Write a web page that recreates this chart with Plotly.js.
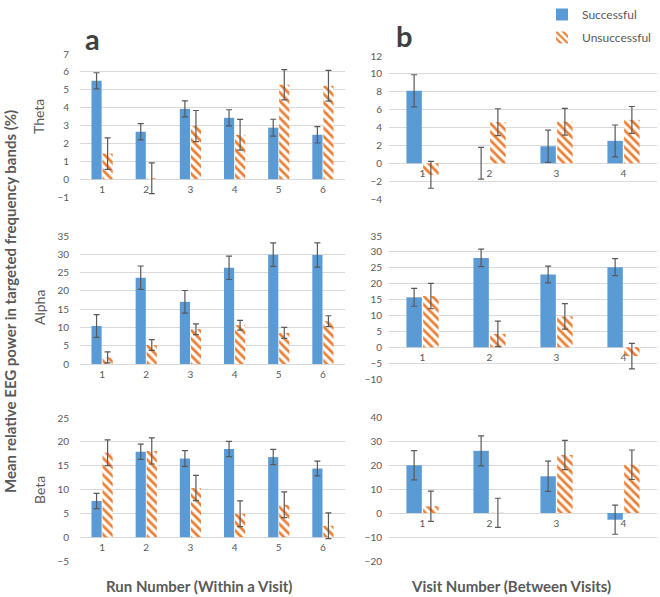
<!DOCTYPE html>
<html>
<head>
<meta charset="utf-8">
<script src="https://cdn.plot.ly/plotly-3.0.1.min.js"></script>
<style>html,body{margin:0;padding:0;background:#fff;}#chart{width:660px;height:597px;}</style>
</head>
<body>
<div id="chart"></div>
<script>
// ---- Data ----
const runs = ['1', '2', '3', '4', '5', '6'];
const visits = ['1', '2', '3', '4'];

const thetaRunSucc = [5.5, 2.65, 3.93, 3.43, 2.88, 2.48];
const thetaRunSuccErr = [0.45, 0.45, 0.45, 0.45, 0.47, 0.46];
const thetaRunUnsucc = [1.43, 0.05, 2.97, 2.48, 5.28, 5.22];
const thetaRunUnsuccErr = [0.88, 0.86, 0.87, 0.86, 0.85, 0.86];

const thetaVisitSucc = [8.1, 0.0, 1.9, 2.5];
const thetaVisitSuccErr = [1.8, 1.77, 1.8, 1.78];
const thetaVisitUnsucc = [-1.3, 4.6, 4.65, 4.85];
const thetaVisitUnsuccErr = [1.5, 1.5, 1.5, 1.5];

const alphaRunSucc = [10.4, 23.6, 17.0, 26.3, 29.9, 29.8];
const alphaRunSuccErr = [3.1, 3.2, 3.1, 3.2, 3.2, 3.3];
const alphaRunUnsucc = [1.8, 5.2, 9.5, 10.6, 8.5, 11.7];
const alphaRunUnsuccErr = [1.5, 1.45, 1.45, 1.35, 1.5, 1.5];

const alphaVisitSucc = [15.7, 28.1, 22.9, 25.2];
const alphaVisitSuccErr = [2.8, 2.75, 2.65, 2.65];
const alphaVisitUnsucc = [16.1, 4.2, 9.7, -2.8];
const alphaVisitUnsuccErr = [4.0, 4.0, 4.0, 4.0];

const betaRunSucc = [7.6, 17.9, 16.5, 18.5, 16.8, 14.4];
const betaRunSuccErr = [1.6, 1.6, 1.65, 1.6, 1.6, 1.55];
const betaRunUnsucc = [17.7, 18.1, 10.3, 4.9, 6.8, 2.4];
const betaRunUnsuccErr = [2.7, 2.75, 2.65, 2.7, 2.7, 2.7];

const betaVisitSucc = [19.9, 25.9, 15.3, -2.8];
const betaVisitSuccErr = [6.1, 6.25, 6.3, 6.05];
const betaVisitUnsucc = [2.8, 0.1, 24.2, 20.1];
const betaVisitUnsuccErr = [6.3, 6.05, 6.1, 6.15];

// ---- Styling ----
const W = 660, H = 597;
const FONT = 'Lato, "Open Sans", sans-serif';
const BLUE = '#5B9BD5', ORANGE = '#ED7D31', GRAY = '#595959', GRID = '#D9D9D9';
const fx = p => p / W;
const fy = p => 1 - p / H;

// panel definitions: [x categories, succ, succErr, unsucc, unsuccErr, xPixels, yPixels(top,bottom), yRange, dtick, standoff]
const panels = [
  [runs, thetaRunSucc, thetaRunSuccErr, thetaRunUnsucc, thetaRunUnsuccErr, [80, 345], [54, 197], [-1, 7], 1, 10],
  [visits, thetaVisitSucc, thetaVisitSuccErr, thetaVisitUnsucc, thetaVisitUnsuccErr, [389, 657], [56, 199], [-4, 12], 2, 6],
  [runs, alphaRunSucc, alphaRunSuccErr, alphaRunUnsucc, alphaRunUnsuccErr, [80, 345], [236, 364], [0, 35], 5, 10],
  [visits, alphaVisitSucc, alphaVisitSuccErr, alphaVisitUnsucc, alphaVisitUnsuccErr, [389, 657], [236, 379], [-10, 35], 5, 6],
  [runs, betaRunSucc, betaRunSuccErr, betaRunUnsucc, betaRunUnsuccErr, [80, 345], [418, 561], [-5, 25], 5, 10],
  [visits, betaVisitSucc, betaVisitSuccErr, betaVisitUnsucc, betaVisitUnsuccErr, [389, 657], [417, 561], [-20, 40], 10, 6]
];

const traces = [];
const layout = {
  width: W, height: H,
  margin: {l: 0, r: 0, t: 0, b: 0},
  paper_bgcolor: '#fff', plot_bgcolor: '#fff',
  font: {family: FONT, color: GRAY},
  barmode: 'group', bargap: 0.5, bargroupgap: 0.08,
  showlegend: true,
  legend: {
    x: fx(542), y: 1, xanchor: 'left', yanchor: 'top',
    font: {family: FONT, size: 12, color: GRAY},
    traceorder: 'grouped', tracegroupgap: 4, itemwidth: 30,
    bgcolor: 'rgba(0,0,0,0)'
  },
  annotations: [],
  shapes: []
};

panels.forEach((p, i) => {
  const [cats, s, se, u, ue, xp, yp, yr, dt, so] = p;
  const n = i + 1;
  const xa = n === 1 ? 'x' : 'x' + n;
  const ya = n === 1 ? 'y' : 'y' + n;
  const yDom = [fy(yp[1]), fy(yp[0])];
  const zeroPos = yDom[0] + (0 - yr[0]) / (yr[1] - yr[0]) * (yDom[1] - yDom[0]);
  traces.push({
    type: 'bar', x: cats, y: s, xaxis: xa, yaxis: ya,
    name: 'Successful', legendgroup: 'succ', showlegend: i === 0,
    marker: {color: BLUE, line: {width: 0}},
    error_y: {type: 'data', array: se, visible: true, color: GRAY, thickness: 1.2, width: 3}
  });
  traces.push({
    type: 'bar', x: cats, y: u, xaxis: xa, yaxis: ya,
    name: 'Unsuccessful', legendgroup: 'unsucc', showlegend: i === 0,
    marker: {color: '#fff', line: {width: 0},
      pattern: {shape: '\\', fgcolor: ORANGE, bgcolor: '#fff', size: 6, solidity: 0.45}},
    error_y: {type: 'data', array: ue, visible: true, color: GRAY, thickness: 1.2, width: 3}
  });
  layout['xaxis' + (n === 1 ? '' : n)] = {
    domain: [fx(xp[0]), fx(xp[1])],
    anchor: 'free', position: zeroPos,
    type: 'category', range: [-0.5, cats.length - 0.5],
    showgrid: false, zeroline: false, showline: false, ticks: '',
    tickfont: {family: FONT, size: 10, color: GRAY},
    ticklabelstandoff: 3, fixedrange: true
  };
  layout['yaxis' + (n === 1 ? '' : n)] = {
    domain: yDom, anchor: xa,
    range: yr, dtick: dt, tick0: 0,
    showgrid: true, gridcolor: GRID, gridwidth: 1,
    zeroline: true, zerolinecolor: GRID, zerolinewidth: 1,
    showline: false, ticks: '',
    tickfont: {family: FONT, size: 10, color: GRAY},
    ticklabelstandoff: so, fixedrange: true
  };
});

const ann = (text, x, y, opts) => Object.assign({
  text: text, xref: 'paper', yref: 'paper', x: fx(x), y: fy(y),
  showarrow: false, xanchor: 'center', yanchor: 'middle'
}, opts);

layout.annotations.push(
  ann('a', 83, 38, {xanchor: 'left', font: {family: FONT, size: 29, weight: 700, color: '#404040'}}),
  ann('b', 394, 35, {xanchor: 'left', font: {family: FONT, size: 29, weight: 700, color: '#404040'}}),
  ann('Theta', 39, 117, {textangle: -90, font: {family: FONT, size: 14, color: GRAY}}),
  ann('Alpha', 39, 308, {textangle: -90, font: {family: FONT, size: 14, color: GRAY}}),
  ann('Beta', 39, 490, {textangle: -90, font: {family: FONT, size: 14, color: GRAY}}),
  ann('Mean relative EEG power in targeted frequency bands (%)', 10, 302,
      {textangle: -90, font: {family: FONT, size: 15, weight: 700, color: GRAY}}),
  ann('Run Number (Within a Visit)', 199, 586, {font: {family: FONT, size: 15, weight: 700, color: GRAY}}),
  ann('Visit Number (Between Visits)', 511, 586, {font: {family: FONT, size: 15, weight: 700, color: GRAY}})
);

Plotly.newPlot('chart', traces, layout, {displayModeBar: false, staticPlot: true});
</script>
</body>
</html>
